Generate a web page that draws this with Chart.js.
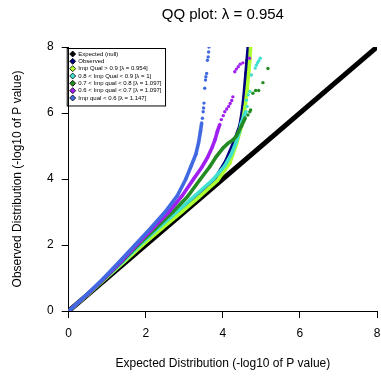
<!DOCTYPE html>
<html><head><meta charset="utf-8">
<script src="https://cdn.jsdelivr.net/npm/chart.js@4.4.1/dist/chart.umd.min.js"></script>
<style>html,body{margin:0;padding:0;background:#fff;}</style>
</head><body>
<canvas id="c" width="381" height="377"></canvas>
<script>
const titleText = 'QQ plot: \u03bb = 0.954';
const xTitle = 'Expected Distribution (-log10 of P value)';
const yTitle = 'Observed Distribution (-log10 of P value)';
const tickValues = [0, 2, 4, 6, 8];

const seriesLabels = [
  'Expected (null)',
  'Observed',
  'Imp Qual > 0.9 [\u03bb = 0.954]',
  '0.8 < Imp Qual < 0.9 [\u03bb = 1]',
  '0.7 < Imp qual < 0.8 [\u03bb = 1.097]',
  '0.6 < Imp qual < 0.7 [\u03bb = 1.097]',
  'Imp qual < 0.6 [\u03bb = 1.147]'
];
const seriesColors = ['#000000', '#000080', '#ADFF2F', '#40E0D0', '#228B22', '#A020F0', '#4169E1'];

// Expected (null)
const expX = [0, 8];
const expY = [0, 8];
// Observed
const obsX = [0, 0.49, 0.96, 1.43, 1.88, 2.36, 2.87, 3.35, 3.80, 4.08, 4.30, 4.44, 4.50, 4.55, 4.60, 4.63, 4.66];
const obsY = [0, 0.5, 1.0, 1.5, 2.0, 2.5, 3.0, 3.5, 4.0, 4.55, 5.15, 5.6, 6.0, 6.5, 7.2, 7.6, 8.0];
const obsTailX = [];
const obsTailY = [];
// Imp Qual > 0.9
const q09X = [0, 0.5, 0.97, 1.45, 1.92, 2.42, 2.93, 3.38, 3.86, 4.18, 4.35, 4.45, 4.52, 4.58, 4.63, 4.67, 4.70, 4.72];
const q09Y = [0, 0.5, 1.0, 1.5, 2.0, 2.5, 3.0, 3.45, 3.95, 4.48, 5.05, 5.45, 5.8, 6.2, 6.7, 7.2, 7.6, 8.0];
const q09TailX = [];
const q09TailY = [];
// 0.8 < Imp Qual < 0.9
const q08X = [0, 0.49, 0.95, 1.41, 1.84, 2.31, 2.80, 3.28, 3.76, 4.05, 4.22, 4.34, 4.42, 4.48, 4.55, 4.60];
const q08Y = [0, 0.5, 1.0, 1.5, 2.0, 2.5, 3.0, 3.5, 4.0, 4.4, 4.75, 5.1, 5.4, 5.7, 5.9, 6.05];
const q08TailX = [4.63, 4.61, 4.66, 4.70, 4.74, 4.84, 4.87, 4.90, 4.93, 4.97];
const q08TailY = [6.20, 6.39, 6.55, 6.65, 7.15, 7.36, 7.45, 7.52, 7.58, 7.66];
// 0.7 < Imp qual < 0.8
const q07X = [0, 0.49, 0.94, 1.38, 1.80, 2.25, 2.70, 3.08, 3.40, 3.66, 3.83, 4.0, 4.13, 4.26, 4.35, 4.48, 4.58];
const q07Y = [0, 0.5, 1.0, 1.5, 2.0, 2.5, 3.0, 3.46, 3.97, 4.37, 4.68, 4.93, 5.08, 5.18, 5.3, 5.6, 5.85];
const q07TailX = [4.65, 4.70, 4.72, 4.78, 4.85, 4.93, 5.04, 5.17];
const q07TailY = [5.94, 6.04, 6.09, 6.60, 6.68, 6.68, 6.92, 7.35];
// 0.6 < Imp qual < 0.7
const q06X = [0, 0.48, 0.93, 1.36, 1.76, 2.18, 2.60, 2.95, 3.24, 3.45, 3.6, 3.72, 3.8, 3.86, 3.92];
const q06Y = [0, 0.5, 1.0, 1.5, 2.0, 2.5, 3.0, 3.5, 4.0, 4.35, 4.65, 4.95, 5.2, 5.45, 5.65];
const q06TailX = [3.96, 4.01, 4.05, 4.10, 4.15, 4.19, 4.23, 4.26, 4.31, 4.35, 4.40, 4.45, 4.52, 4.69];
const q06TailY = [5.80, 5.92, 6.04, 6.12, 6.20, 6.29, 6.38, 6.49, 7.25, 7.33, 7.40, 7.48, 7.52, 7.66];
// Imp qual < 0.6
const q00X = [0, 0.47, 0.91, 1.32, 1.72, 2.12, 2.50, 2.82, 3.04, 3.18, 3.3, 3.37, 3.42, 3.45];
const q00Y = [0, 0.5, 1.0, 1.5, 2.0, 2.5, 3.0, 3.5, 4.0, 4.4, 4.75, 5.1, 5.45, 5.7];
const q00TailX = [3.47, 3.49, 3.50, 3.51, 3.53, 3.55, 3.56, 3.58, 3.60, 3.62, 3.63, 3.64];
const q00TailY = [5.84, 6.04, 6.15, 6.30, 6.75, 7.00, 7.10, 7.20, 7.60, 7.70, 7.85, 8.00];

function build(xs, ys, tx, ty) {
  const out = xs.map((x, i) => ({x: x, y: ys[i]}));
  out.push({x: xs[xs.length - 1], y: null});
  tx.forEach((x, i) => { out.push({x: x, y: ty[i]}); out.push({x: x, y: null}); });
  return out;
}

const seriesData = [
  build(expX, expY, [], []),
  build(obsX, obsY, obsTailX, obsTailY),
  build(q09X, q09Y, q09TailX, q09TailY),
  build(q08X, q08Y, q08TailX, q08TailY),
  build(q07X, q07Y, q07TailX, q07TailY),
  build(q06X, q06Y, q06TailX, q06TailY),
  build(q00X, q00Y, q00TailX, q00TailY)
];

const datasets = seriesData.map((d, i) => ({
  label: seriesLabels[i],
  data: d,
  showLine: true,
  spanGaps: false,
  borderColor: seriesColors[i],
  backgroundColor: seriesColors[i],
  borderWidth: i === 0 ? 5 : 3.6,
  pointRadius: i === 0 ? 0 : 1.7,
  pointBorderWidth: 0,
  pointBackgroundColor: seriesColors[i],
  order: seriesLabels.length - i
}));

const FONT = "'Liberation Sans', Arial, sans-serif";

const legendPlugin = {
  id: 'qqLegend',
  afterDraw(chart) {
    const ctx = chart.ctx;
    const a = chart.chartArea;
    const x0 = a.left, y0 = a.top;
    ctx.save();
    ctx.font = '6px ' + FONT;
    ctx.textBaseline = 'middle';
    ctx.textAlign = 'left';
    const rowH = 7.33;
    let maxRight = 0;
    seriesLabels.forEach((lab, i) => {
      const cy = y0 + 7 + i * rowH;
      const cx = x0 + 4;
      const r = 3;
      ctx.beginPath();
      ctx.moveTo(cx, cy - r); ctx.lineTo(cx + r, cy); ctx.lineTo(cx, cy + r); ctx.lineTo(cx - r, cy); ctx.closePath();
      ctx.fillStyle = seriesColors[i];
      ctx.fill();
      ctx.strokeStyle = '#000';
      ctx.lineWidth = 0.8;
      ctx.stroke();
      ctx.fillStyle = '#000';
      const tx = x0 + 9.6;
      ctx.fillText(lab, tx, cy);
      maxRight = Math.max(maxRight, tx + ctx.measureText(lab).width);
    });
    ctx.strokeStyle = '#000';
    ctx.lineWidth = 1;
    const l = x0 - 1.5, t = y0 + 1.5;
    const bottom = y0 + 7 + (seriesLabels.length - 1) * rowH + 8;
    ctx.strokeRect(l, t, maxRight + 4 - l, bottom - t);
    ctx.restore();
  }
};

new Chart(document.getElementById('c'), {
  type: 'scatter',
  data: {datasets: datasets},
  plugins: [legendPlugin],
  options: {
    responsive: false,
    animation: false,
    devicePixelRatio: 1,
    layout: {padding: {left: 0, right: 4, top: 0, bottom: 0}},
    plugins: {
      tooltip: {enabled: false},
      legend: {display: false},
      title: {
        display: true, text: titleText, fullSize: false, color: '#000',
        font: {family: FONT, size: 15, weight: 'normal', lineHeight: 1.2},
        padding: {top: 6, bottom: 23}
      }
    },
    scales: {
      x: {
        type: 'linear', min: 0, max: 8,
        afterBuildTicks: s => { s.ticks = tickValues.map(v => ({value: v})); },
        afterFit: s => { s.height = 66; s.paddingRight = 0; s.paddingLeft = 0; },
        grid: {drawOnChartArea: false, drawTicks: true, tickLength: 7, color: '#000', tickColor: '#000'},
        border: {display: true, color: '#000', width: 1},
        ticks: {color: '#000', padding: 8, font: {family: FONT, size: 12}, maxRotation: 0},
        title: {display: true, text: xTitle, color: '#000', font: {family: FONT, size: 12}, padding: {top: 0, bottom: 6}}
      },
      y: {
        type: 'linear', min: 0, max: 8,
        afterBuildTicks: s => { s.ticks = tickValues.map(v => ({value: v})); },
        afterFit: s => { s.width = 68.7; },
        grid: {drawOnChartArea: false, drawTicks: true, tickLength: 7, color: '#000', tickColor: '#000'},
        border: {display: true, color: '#000', width: 1},
        ticks: {color: '#000', padding: 8, font: {family: FONT, size: 12}},
        title: {display: true, text: yTitle, color: '#000', font: {family: FONT, size: 12}, padding: {top: 10, bottom: 0}}
      }
    }
  }
});
</script>
</body></html>
